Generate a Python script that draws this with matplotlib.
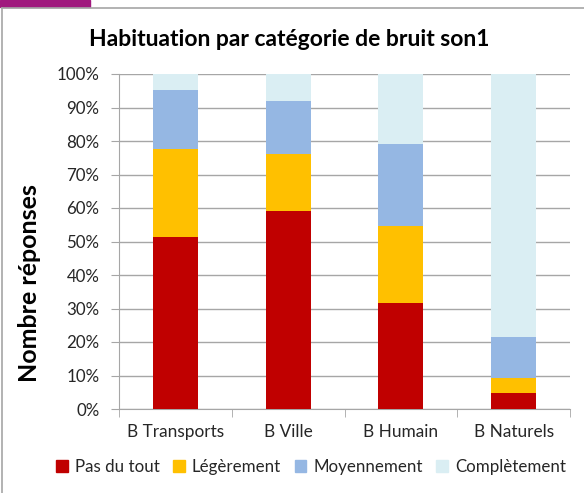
import matplotlib
matplotlib.use("Agg")
import matplotlib.pyplot as plt
from matplotlib.patches import Rectangle
from matplotlib.lines import Line2D
from matplotlib.ticker import FuncFormatter, FixedLocator
import numpy as np

categories = ["B Transports", "B Ville", "B Humain", "B Naturels"]
series_names = ["Pas du tout", "Légèrement", "Moyennement", "Complètement"]
pas_du_tout = [51.2, 59.0, 31.5, 4.7]
legerement = [26.3, 17.0, 23.0, 4.7]
moyennement = [17.7, 16.0, 24.5, 12.0]
completement = [4.8, 8.0, 21.0, 78.6]
colors = ["#C00000", "#FFC000", "#95B7E3", "#DAEEF3"]

plt.rcParams['font.family'] = ['Lato', 'DejaVu Sans']

fig = plt.figure(figsize=(5.84, 4.93), dpi=100)
ax = fig.add_axes([119/584, 1-409/493, (570-119)/584, (409-74)/493])

x = np.arange(len(categories))
bottom = np.zeros(len(categories))
for vals, name, c in zip([pas_du_tout, legerement, moyennement, completement], series_names, colors):
    ax.bar(x, vals, 0.4, bottom=bottom, color=c, label=name, zorder=3)
    bottom += np.array(vals)

ax.set_xlim(-0.5, len(categories) - 0.5)
ax.set_ylim(0, 100)
ax.set_yticks(np.arange(0, 101, 10))
ax.yaxis.set_major_formatter(FuncFormatter(lambda v, p: f"{int(v)}%"))
ax.grid(axis='y', color='#A6A6A6', linewidth=1, zorder=0)
ax.set_xticks(x)
ax.set_xticklabels(categories)
ax.xaxis.set_minor_locator(FixedLocator(np.arange(-0.5, len(categories), 1)))
ax.tick_params(axis='x', which='major', length=0, pad=11, labelsize=12.4, colors='#262626')
ax.tick_params(axis='x', which='minor', length=6, color='#A6A6A6')
ax.tick_params(axis='y', length=6, color='#A6A6A6', labelsize=12.2, labelcolor='#262626', pad=8)
for s in ['top', 'right']:
    ax.spines[s].set_visible(False)
for s in ['left', 'bottom']:
    ax.spines[s].set_color('#A6A6A6')

fig.text(289/584, 1-40/493, "Habituation par catégorie de bruit son1", ha='center', va='center',
         fontsize=16.5, fontweight='bold', color='black')
fig.text(30/584, 1-283/493, "Nombre réponses", ha='center', va='center', rotation=90,
         fontsize=18, fontweight='bold', color='black')

handles = [Rectangle((0, 0), 1, 1, color=c) for c in colors]
fig.legend(handles, series_names, loc='center', bbox_to_anchor=(311/584, 1-467/493), ncol=4,
           frameon=False, fontsize=12.2, handlelength=0.7, handleheight=0.7, handletextpad=0.4,
           columnspacing=0.8, labelcolor='#262626')

# slide frame
fig.add_artist(Line2D([2/584, 2/584], [0, 1-8/493], transform=fig.transFigure, color='#A6A6A6', lw=1.2))
fig.add_artist(Line2D([2/584, 1], [1-8/493, 1-8/493], transform=fig.transFigure, color='#A6A6A6', lw=1.2))
fig.add_artist(Rectangle((0, 1-7/493), 90/584, 7/493, transform=fig.transFigure, color='#A0197E'))

fig.savefig("out.png", dpi=100)
